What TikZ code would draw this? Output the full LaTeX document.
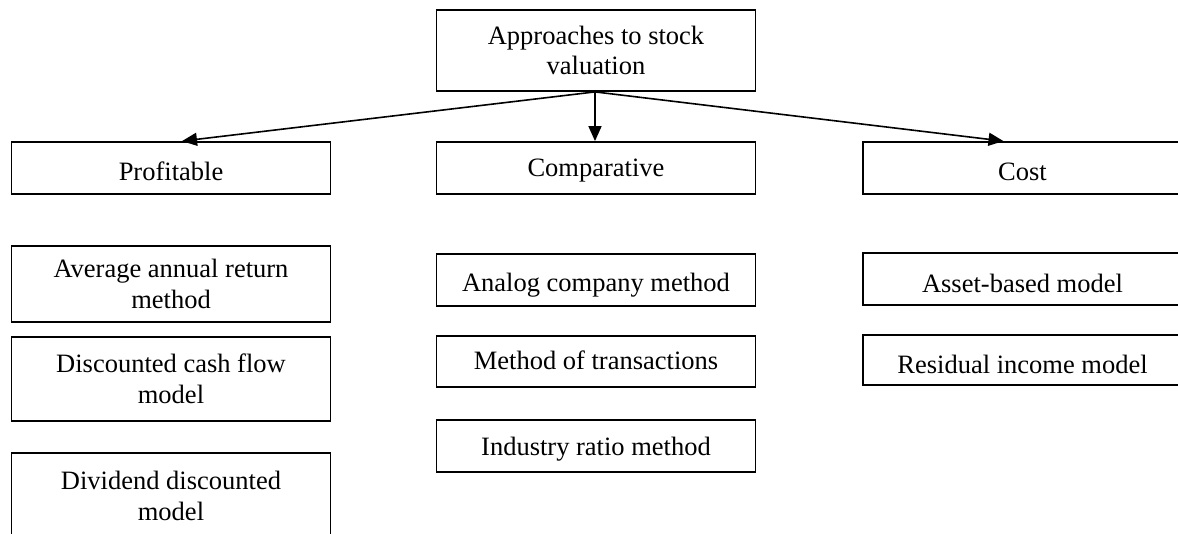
\documentclass[tikz,border=0pt]{standalone}
\usepackage{fontspec}
\setmainfont{Liberation Serif}
\usetikzlibrary{arrows.meta}
\begin{document}
\begin{tikzpicture}[x=1pt,y=-1pt,
  box/.style={draw=black, line width=1.8pt, inner sep=0pt,
    font=\fontsize{26.5}{30.5}\selectfont, minimum width=319pt},
  onebox/.style={box, text height=#1, text depth=0pt},
  onebox/.default=18pt,
  twobox/.style={box, align=center},
  conn/.style={line width=1.6pt, -{Triangle[length=15pt,width=13pt]}}]
\useasboundingbox (0,0) rectangle (1178,534);
% top
\node[twobox, minimum height=81pt] (top) at (596,50.5) {Approaches to stock\\valuation};
% categories
\node[onebox=26pt, minimum height=52pt] (prof) at (171,168) {Profitable};
\node[onebox=18pt, minimum height=52pt] (comp) at (596,168) {Comparative};
\node[onebox=26pt, minimum height=52pt] (cost) at (1022.5,168) {Cost};
% profitable methods
\node[twobox, minimum height=76pt] (avg) at (171,284) {Average annual return\\method};
\node[twobox, minimum height=84pt] (dcf) at (171,379) {Discounted cash flow\\model};
\node[twobox, minimum height=86pt] (ddm) at (171,496) {Dividend discounted\\model};
% comparative methods
\node[onebox=24pt, minimum height=52pt] (analog) at (596,280) {Analog company method};
\node[onebox=17pt, minimum height=51pt] (trans) at (596,361.5) {Method of transactions};
\node[onebox=18pt, minimum height=52pt] (ratio) at (596,446) {Industry ratio method};
% cost methods
\node[onebox=28pt, minimum height=52pt] (asset) at (1022.5,279) {Asset-based model};
\node[onebox=28pt, minimum height=50pt] (resid) at (1022.5,360) {Residual income model};
% connectors
\draw[conn] ([xshift=-1pt]top.south) -- ([xshift=11pt]prof.north);
\draw[conn] ([xshift=-1pt]top.south) -- ([xshift=-1pt]comp.north);
\draw[conn] ([xshift=-1pt]top.south) -- ([xshift=-19pt]cost.north);
\end{tikzpicture}
\end{document}
